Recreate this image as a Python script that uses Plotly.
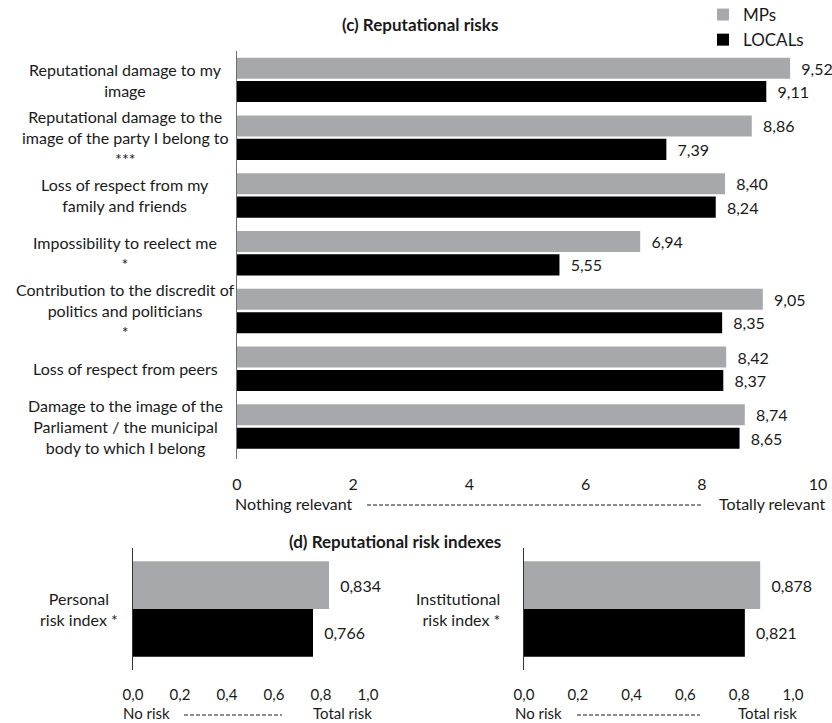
import plotly.graph_objects as go

W, H = 832, 723
FONT = "Lato"
TXT = "#1a1a1a"
GRAY = "#a7a8ab"
BLACK = "#000000"
FS = 16

# ---------------- data ----------------
categories = [
    "Reputational damage to my<br>image",
    "Reputational damage to the<br>image of the party I belong to<br>***",
    "Loss of respect from my<br>family and friends",
    "Impossibility to reelect me<br>*",
    "Contribution to the discredit of<br>politics and politicians<br>*",
    "Loss of respect from peers",
    "Damage to the image of the<br>Parliament / the municipal<br>body to which I belong",
]
mps = [9.52, 8.86, 8.40, 6.94, 9.05, 8.42, 8.74]
locals_ = [9.11, 7.39, 8.24, 5.55, 8.35, 8.37, 8.65]
top_ticks = [0, 2, 4, 6, 8, 10]

index_labels = ["Personal<br>risk index *", "Institutional<br>risk index *"]
index_mps = [0.834, 0.878]
index_locals = [0.766, 0.821]
index_ticks = [0.0, 0.2, 0.4, 0.6, 0.8, 1.0]

series_names = ["MPs", "LOCALs"]


def X(px):
    return px / W


def Y(py):
    return 1 - py / H


fig = go.Figure()

# ---------------- top chart ----------------
for name, vals, col in [(series_names[0], mps, GRAY), (series_names[1], locals_, BLACK)]:
    fig.add_trace(go.Bar(
        y=categories, x=vals, orientation="h", name=name,
        marker=dict(color=col, line=dict(width=0)),
        texttemplate="\u00a0\u00a0%{x:.2f}", textposition="outside",
        textfont=dict(family=FONT, size=FS, color=TXT),
        cliponaxis=False, constraintext="none",
        legendgroup=name, xaxis="x", yaxis="y", hoverinfo="skip",
    ))

# ---------------- bottom charts ----------------
for i, (xa, ya) in enumerate([("x2", "y2"), ("x3", "y3")]):
    for name, vals, col, off in [(series_names[0], index_mps, GRAY, -0.4),
                                 (series_names[1], index_locals, BLACK, 0.0)]:
        fig.add_trace(go.Bar(
            y=[0], x=[vals[i]], orientation="h", name=name,
            width=[0.4], offset=[off],
            marker=dict(color=col, line=dict(width=0)),
            texttemplate="\u00a0\u00a0%{x:.3f}", textposition="outside",
            textfont=dict(family=FONT, size=FS, color=TXT),
            cliponaxis=False, constraintext="none",
            showlegend=False, xaxis=xa, yaxis=ya, hoverinfo="skip",
        ))

axis_font = dict(family=FONT, size=FS, color=TXT)
small_font = dict(family=FONT, size=15, color=TXT)
common = dict(showgrid=False, zeroline=False, automargin=False, ticks="")

fig.update_layout(
    width=W, height=H,
    margin=dict(l=0, r=0, t=0, b=0, pad=0, autoexpand=False),
    paper_bgcolor="white", plot_bgcolor="white",
    separators=",.",
    barmode="group", bargap=0.19, bargroupgap=0.1,
    font=dict(family=FONT, size=FS, color=TXT),
    showlegend=True,
    legend=dict(x=X(703), y=Y(-3), xanchor="left", yanchor="top",
                font=dict(family=FONT, size=17, color=TXT),
                tracegroupgap=0, itemwidth=30, bgcolor="rgba(0,0,0,0)"),
    xaxis=dict(domain=[X(237), X(818)], range=[0, 10], tickvals=top_ticks,
               tickformat="d", showline=False, tickfont=axis_font,
               ticklabelstandoff=14, anchor="y", **common),
    yaxis=dict(domain=[Y(459), Y(51)], autorange="reversed", showticklabels=False,
               showline=True, linecolor="#6d6e71", linewidth=1, anchor="x",
               categoryorder="array", categoryarray=categories, **common),
    xaxis2=dict(domain=[X(133), X(368)], range=[0, 1], tickvals=index_ticks,
                tickformat=".1f", showline=False, tickfont=small_font,
                ticklabelstandoff=14, anchor="y2", **common),
    yaxis2=dict(domain=[Y(670), Y(548)], range=[0.51, -0.51], showticklabels=False,
                showline=True, linecolor="#333333", linewidth=1, anchor="x2", **common),
    xaxis3=dict(domain=[X(524), X(793)], range=[0, 1], tickvals=index_ticks,
                tickformat=".1f", showline=False, tickfont=small_font,
                ticklabelstandoff=14, anchor="y3", **common),
    yaxis3=dict(domain=[Y(670), Y(548)], range=[0.51, -0.51], showticklabels=False,
                showline=True, linecolor="#333333", linewidth=1, anchor="x3", **common),
)

ann = []
# category labels (top)
for c in categories:
    ann.append(dict(text=c, x=X(125), xref="paper", y=c, yref="y",
                    xanchor="center", yanchor="middle", align="center",
                    showarrow=False, font=dict(family=FONT, size=FS, color=TXT)))
# index labels
ann.append(dict(text=index_labels[0], x=X(79), xref="paper", y=0, yref="y2",
                xanchor="center", yanchor="middle", align="center",
                showarrow=False, font=dict(family=FONT, size=FS, color=TXT)))
ann.append(dict(text=index_labels[1], x=X(502), xref="paper", y=0, yref="y3",
                xanchor="right", yanchor="middle", align="right",
                showarrow=False, font=dict(family=FONT, size=FS, color=TXT)))
# titles
ann.append(dict(text="<b>(c) Reputational risks</b>", x=X(420), y=Y(25),
                xref="paper", yref="paper", xanchor="center", yanchor="middle",
                showarrow=False, font=dict(family=FONT, size=17, color=TXT)))
ann.append(dict(text="<b>(d) Reputational risk indexes</b>", x=X(395), y=Y(541),
                xref="paper", yref="paper", xanchor="center", yanchor="middle",
                showarrow=False, font=dict(family=FONT, size=17, color=TXT)))
# scale captions
caps = [
    ("Nothing relevant", 233, 503, "left", FS), ("Totally relevant", 827, 503, "right", FS),
    ("No risk", 121, 713, "left", 15), ("Total risk", 374, 713, "right", 15),
    ("No risk", 513, 713, "left", 15), ("Total risk", 799, 713, "right", 15),
]
for t, x, y, anc, fs in caps:
    ann.append(dict(text=t, x=X(x), y=Y(y), xref="paper", yref="paper",
                    xanchor=anc, yanchor="middle", showarrow=False,
                    font=dict(family=FONT, size=fs, color=TXT)))
fig.update_layout(annotations=ann)

shapes = []
for x0, x1, y in [(367, 703, 505), (184, 282, 715), (577, 700, 715)]:
    shapes.append(dict(type="line", xref="paper", yref="paper",
                       x0=X(x0), x1=X(x1), y0=Y(y), y1=Y(y),
                       line=dict(color=TXT, width=1, dash="4px,2px")))
fig.update_layout(shapes=shapes)

fig.write_html("out.html",
               config={"displayModeBar": False},
               post_script="document.body.style.margin='0';"
                           "document.body.style.overflow='hidden';")
